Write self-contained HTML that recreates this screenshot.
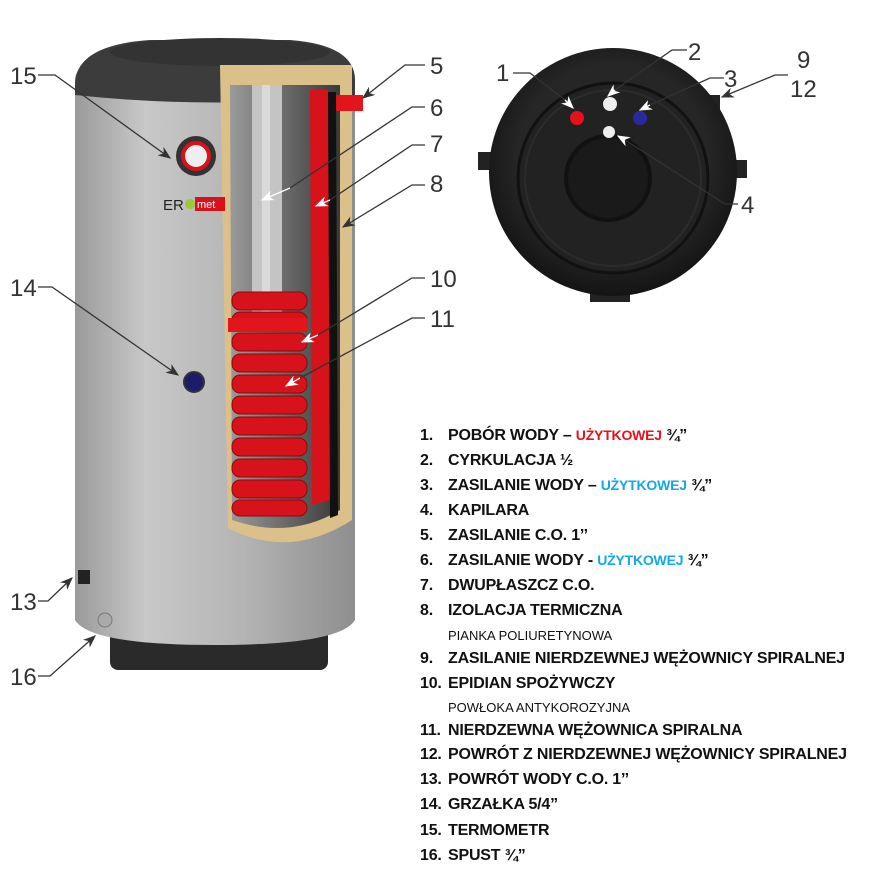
<!DOCTYPE html>
<html><head><meta charset="utf-8"><style>
body{margin:0;background:#fff;width:879px;height:881px;overflow:hidden;font-family:"Liberation Sans",sans-serif}
.lg{position:absolute;left:420px;font-weight:bold;font-size:16px;color:#111;white-space:nowrap;letter-spacing:-0.2px}
.lg b{display:inline-block;width:28px}
.sub{position:absolute;left:448px;font-size:13px;color:#111;white-space:nowrap}
.r{color:#e8101a;font-size:14px}.c{color:#10a8e8;font-size:14px}
</style></head><body>
<svg width="879" height="881" style="position:absolute;left:0;top:0">
<defs>
<linearGradient id="body" x1="0" x2="1"><stop offset="0" stop-color="#9a9a9a"/><stop offset="0.25" stop-color="#c8c8c8"/><stop offset="0.6" stop-color="#b4b4b4"/><stop offset="1" stop-color="#8e8e8e"/></linearGradient>
<linearGradient id="inn" x1="0" x2="1"><stop offset="0" stop-color="#9a9a9a"/><stop offset="0.5" stop-color="#6a6a6a"/><stop offset="1" stop-color="#3a3a3a"/></linearGradient>
<radialGradient id="disc" cx="0.5" cy="0.45" r="0.55"><stop offset="0.7" stop-color="#262626"/><stop offset="1" stop-color="#141414"/></radialGradient>
<marker id="ah" markerWidth="10" markerHeight="8" refX="9" refY="4" orient="auto"><path d="M0,0 L10,4 L0,8 L3,4z" fill="#333"/></marker>
<marker id="aw" markerWidth="10" markerHeight="8" refX="9" refY="4" orient="auto"><path d="M0,0 L10,4 L0,8 L3,4z" fill="#fff"/></marker>
</defs>
<rect x="110" y="625" width="218" height="45" rx="8" fill="#2a2a2a"/>
<path d="M75,80 Q75,60 120,55 L320,55 Q355,60 355,80 L355,620 Q340,645 215,645 Q90,645 75,620 Z" fill="url(#body)"/>
<path d="M75,85 Q75,45 150,40 L290,40 Q355,45 355,80 L355,95 Q215,110 75,95 Z" fill="#3c3c3c"/>
<ellipse cx="220" cy="52" rx="110" ry="14" fill="#333"/>
<path d="M220,65 L352,65 L352,520 Q290,560 228,528 Z" fill="#dcc08a"/>
<path d="M230,85 L340,85 L340,510 Q290,540 232,520 Z" fill="url(#inn)"/>
<rect x="252" y="85" width="30" height="230" fill="#c4c4c4"/>
<rect x="262" y="85" width="8" height="230" fill="#dadada"/>
<path d="M310,90 L328,90 L330,500 L312,505 Z" fill="#d8121a"/>
<rect x="328" y="95" width="35" height="16" fill="#e2141c"/>
<path d="M328,92 L336,92 L338,515 L330,518Z" fill="#111"/>
<g fill="#d8121a" stroke="#8a0a0e" stroke-width="1">
<rect x="232" y="292" width="75" height="18" rx="8"/><rect x="232" y="312" width="75" height="18" rx="8"/>
<rect x="232" y="333" width="75" height="18" rx="8"/><rect x="232" y="354" width="75" height="18" rx="8"/>
<rect x="232" y="375" width="75" height="18" rx="8"/><rect x="232" y="396" width="75" height="18" rx="8"/>
<rect x="232" y="417" width="75" height="18" rx="8"/><rect x="232" y="438" width="75" height="18" rx="8"/>
<rect x="232" y="459" width="75" height="18" rx="8"/><rect x="232" y="480" width="75" height="18" rx="8"/>
<rect x="232" y="500" width="75" height="16" rx="8"/>
</g>
<rect x="228" y="318" width="80" height="14" fill="#e2141c"/>
<circle cx="196" cy="156" r="20" fill="#333"/><circle cx="196" cy="156" r="15" fill="#d8121a"/><circle cx="196" cy="156" r="11" fill="#eee"/>
<text x="163" y="210" font-family="Liberation Sans" font-size="15" fill="#222">ER</text>
<circle cx="190" cy="204" r="5" fill="#9c3"/>
<rect x="195" y="197" width="30" height="14" fill="#d8121a"/><text x="197" y="208" font-size="11" fill="#fff" font-family="Liberation Sans">met</text>
<circle cx="194" cy="382" r="10" fill="#1c1c6a" stroke="#333" stroke-width="2"/>
<rect x="78" y="570" width="12" height="14" fill="#222"/>
<circle cx="105" cy="620" r="7" fill="#aaa" stroke="#777"/>
<rect x="478" y="152" width="14" height="18" fill="#222"/><rect x="735" y="160" width="12" height="18" fill="#222"/>
<rect x="710" y="95" width="10" height="14" fill="#222"/><rect x="590" y="288" width="40" height="14" fill="#222"/>
<circle cx="613" cy="172" r="124" fill="url(#disc)"/>
<circle cx="613" cy="178" r="95" fill="#222" stroke="#111" stroke-width="3"/>
<circle cx="613" cy="178" r="88" fill="none" stroke="#2c2c2c" stroke-width="2"/>
<circle cx="608" cy="178" r="42" fill="#1a1a1a" stroke="#111" stroke-width="4"/>
<circle cx="577" cy="118" r="7" fill="#e8101a"/><circle cx="610" cy="104" r="7" fill="#eee"/>
<circle cx="640" cy="118" r="7" fill="#2a2aa0"/><circle cx="609" cy="132" r="6" fill="#eee"/>
<g stroke="#333" stroke-width="1.3" fill="none">
<path d="M38,75 L55,75 L170,158" marker-end="url(#ah)"/>
<path d="M38,287 L52,287 L178,375" marker-end="url(#ah)"/>
<path d="M38,601 L48,601 L72,578" marker-end="url(#ah)"/>
<path d="M38,676 L50,676 L95,636" marker-end="url(#ah)"/>
<path d="M425,65 L405,65 L363,98" marker-end="url(#ah)"/>
<path d="M425,185 L412,185 L343,227" marker-end="url(#ah)"/>
<path d="M513,73 L530,73 L565,100"/><path d="M687,50 L672,50 L615,90"/>
<path d="M724,78 L710,78 L650,105"/><path d="M788,75 L775,75 L722,97" marker-end="url(#ah)"/>
<path d="M738,204 L725,204 L625,140"/>
</g>
<g stroke="#fff" stroke-width="1.3" fill="none">
<path d="M565,100 L573,108" marker-end="url(#aw)"/><path d="M615,90 L608,96" marker-end="url(#aw)"/>
<path d="M650,105 L640,110" marker-end="url(#aw)"/><path d="M625,140 L618,136" marker-end="url(#aw)"/>
</g>
<g stroke="#333" stroke-width="1.3" fill="none">
<path d="M425,107 L412,107 L290,188"/><path d="M425,145 L412,145 L330,200"/>
<path d="M425,278 L412,278 L318,335"/><path d="M425,318 L412,318 L300,378"/>
</g>
<g stroke="#fff" stroke-width="1.3" fill="none">
<path d="M290,188 L262,200" marker-end="url(#aw)"/><path d="M330,200 L316,206" marker-end="url(#aw)"/>
<path d="M318,335 L302,342" marker-end="url(#aw)"/><path d="M300,378 L286,386" marker-end="url(#aw)"/>
</g>
<g font-family="Liberation Sans" font-size="24" fill="#333">
<text x="10" y="84">15</text><text x="10" y="296">14</text><text x="10" y="610">13</text><text x="10" y="685">16</text>
<text x="430" y="74">5</text><text x="430" y="116">6</text><text x="430" y="152">7</text><text x="430" y="192">8</text>
<text x="430" y="287">10</text><text x="430" y="327">11</text>
<text x="496" y="81">1</text><text x="688" y="60">2</text><text x="724" y="87">3</text>
<text x="797" y="68">9</text><text x="790" y="97">12</text><text x="741" y="213">4</text>
</g>
</svg>
<div class="lg" style="top:427px"><b>1.</b>POBÓR WODY – <span class="r">UŻYTKOWEJ</span> ¾”</div>
<div class="lg" style="top:452px"><b>2.</b>CYRKULACJA ½</div>
<div class="lg" style="top:477px"><b>3.</b>ZASILANIE WODY – <span class="c">UŻYTKOWEJ</span> ¾”</div>
<div class="lg" style="top:502px"><b>4.</b>KAPILARA</div>
<div class="lg" style="top:527px"><b>5.</b>ZASILANIE C.O. 1’’</div>
<div class="lg" style="top:552px"><b>6.</b>ZASILANIE WODY - <span class="c">UŻYTKOWEJ</span> ¾”</div>
<div class="lg" style="top:577px"><b>7.</b>DWUPŁASZCZ C.O.</div>
<div class="lg" style="top:602px"><b>8.</b>IZOLACJA TERMICZNA</div>
<div class="sub" style="top:628px">PIANKA POLIURETYNOWA</div>
<div class="lg" style="top:650px"><b>9.</b>ZASILANIE NIERDZEWNEJ WĘŻOWNICY SPIRALNEJ</div>
<div class="lg" style="top:675px"><b>10.</b>EPIDIAN SPOŻYWCZY</div>
<div class="sub" style="top:700px">POWŁOKA ANTYKOROZYJNA</div>
<div class="lg" style="top:722px"><b>11.</b>NIERDZEWNA WĘŻOWNICA SPIRALNA</div>
<div class="lg" style="top:746px"><b>12.</b>POWRÓT Z NIERDZEWNEJ WĘŻOWNICY SPIRALNEJ</div>
<div class="lg" style="top:771px"><b>13.</b>POWRÓT WODY C.O. 1’’</div>
<div class="lg" style="top:796px"><b>14.</b>GRZAŁKA 5/4”</div>
<div class="lg" style="top:822px"><b>15.</b>TERMOMETR</div>
<div class="lg" style="top:847px"><b>16.</b>SPUST ¾”</div>
</body></html>
